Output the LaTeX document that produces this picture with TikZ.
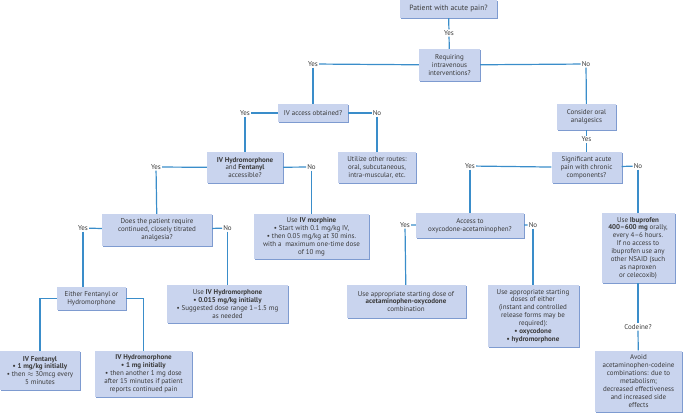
\documentclass[tikz,border=0pt]{standalone}
\usepackage{fontspec}
\setmainfont{PT Sans}
\usepackage{tikz}
\usetikzlibrary{shadows}

\definecolor{boxfill}{HTML}{C9D4EE}
\definecolor{boxshade}{HTML}{7E9BD0}
\definecolor{linkblue}{HTML}{3A8DCA}
\definecolor{txtgray}{HTML}{3A3A3A}

\begin{document}
\begin{tikzpicture}[
  x=1pt, y=-1pt,
  font=\fontsize{7}{7.9}\selectfont, text=txtgray,
  b/.style={fill=boxfill, align=center, inner sep=1pt,
            drop shadow={shadow xshift=1.4pt, shadow yshift=-1.4pt, fill=boxshade, opacity=1}},
  lbl/.style={inner sep=1pt, fill=white},
  a/.style={draw=linkblue, line width=1.2pt},
]
\useasboundingbox (0,0) rectangle (685,413);

% Top: intravenous or oral route
\node[b, minimum width=97pt, minimum height=18pt, font=\fontsize{7.6}{8.6}\selectfont] (pat) at (448.5,9) {Patient with acute pain?};
\node[lbl] (y0) at (449,33) {Yes};
\node[b, minimum width=61pt, minimum height=32pt] (req) at (449.5,65) {Requiring\\intravenous\\interventions?};
\draw[a] (pat) -- (y0);
\draw[a] (y0) -- (req);

\node[lbl] (y1) at (313,64) {Yes};
\node[lbl] (n1) at (586,64) {No};
\draw[a] (req) -- (y1);
\draw[a] (req) -- (n1);

% IV branch
\node[b, minimum width=70pt, minimum height=18pt] (iv) at (313,113) {IV access obtained?};
\draw[a] (y1) -- (iv);
\node[lbl] (y2) at (245,113) {Yes};
\node[lbl] (n2) at (377,113) {No};
\draw[a] (iv) -- (y2);
\draw[a] (iv) -- (n2);

\node[b, minimum width=76pt, minimum height=31pt] (hf) at (245,167.5)
  {\textbf{IV Hydromorphone}\\and \textbf{Fentanyl}\\accessible?};
\node[b, minimum width=78pt, minimum height=31pt] (util) at (377,167.5)
  {Utilize other routes:\\oral, subcutaneous,\\intra-muscular, etc.};
\draw[a] (y2) -- (hf);
\draw[a] (n2) -- (util);

\node[lbl] (y4) at (156,167) {Yes};
\node[lbl] (n4) at (311.5,167) {No};
\draw[a] (hf) -- (y4);
\draw[a] (hf) -- (n4);

\node[b, minimum width=110pt, minimum height=32pt] (does) at (157,230)
  {Does the patient require\\continued, closely titrated\\analgesia?};
\node[b, minimum width=115pt, minimum height=45pt] (morph) at (311.5,236.5)
  {Use \textbf{IV morphine}\\\textbullet{} Start with 0.1 mg/kg IV,\\\textbullet{} then 0.05 mg/kg at 30 mins.\\with a\ \ maximum one-time dose\\of 10 mg};
\draw[a] (y4) -- (does);
\draw[a] (n4) -- (morph);

\node[lbl] (y6) at (83,228) {Yes};
\node[lbl] (n6) at (227.5,228) {No};
\draw[a] (does) -- (y6);
\draw[a] (does) -- (n6);

\node[b, minimum width=69pt, minimum height=23pt] (either) at (91.5,298.5)
  {Either Fentanyl or\\Hydromorphone};
\node[b, minimum width=121pt, minimum height=38pt] (hyd015) at (227.5,304)
  {Use \textbf{IV Hydromorphone}\\\textbf{\textbullet{} 0.015 mg/kg initially}\\\textbullet{} Suggested dose range 1--1.5 mg\\as needed};
\draw[a] (y6) -- (y6 |- either.north);
\draw[a] (n6) -- (hyd015);

\node[b, minimum width=80pt, minimum height=39pt] (fent) at (40,370.5)
  {\textbf{IV Fentanyl}\\\textbf{\textbullet{} 1 mg/kg initially}\\\textbullet{} then $\approx$ 30mcg every\\5 minutes};
\node[b, minimum width=97pt, minimum height=46pt] (hyd1) at (143.5,374)
  {\textbf{IV Hydromorphone}\\\textbf{\textbullet{} 1 mg initially}\\\textbullet{} then another 1 mg dose\\after 15 minutes if patient\\reports continued pain};
\draw[a] (either.west) -| (fent.north);
\draw[a] (either.east) -| (hyd1.north);

% Oral branch
\node[b, minimum width=59pt, minimum height=26pt] (cons) at (586.5,117) {Consider oral\\analgesics};
\draw[a] (n1) -- (cons);
\node[lbl] (y3) at (586.5,139.5) {Yes};
\node[b, minimum width=70pt, minimum height=31pt] (sig) at (586.5,167.5)
  {Significant acute\\pain with chronic\\components?};
\draw[a] (cons) -- (y3);
\draw[a] (y3) -- (sig);

\node[lbl] (y5) at (470,166) {Yes};
\node[lbl] (n5) at (638,166) {No};
\draw[a] (sig) -- (y5);
\draw[a] (sig) -- (n5);

\node[b, minimum width=108pt, minimum height=25pt] (acc) at (470,225.5)
  {Access to\\oxycodone-acetaminophen?};
\node[b, minimum width=73pt, minimum height=70pt] (ibu) at (638,248)
  {Use \textbf{Ibuprofen}\\\textbf{400--600 mg} orally,\\every 4--6 hours.\\If no access to\\ibuprofen use any\\other NSAID (such\\as naproxen\\or celecoxib)};
\draw[a] (y5) -- (acc);
\draw[a] (n5) -- (ibu);

\node[lbl] (y7) at (405,225) {Yes};
\node[lbl] (n7) at (533,225) {No};
\draw[a] (acc) -- (y7);
\draw[a] (acc) -- (n7);

\node[b, minimum width=119pt, minimum height=33pt] (combo) at (406,301.5)
  {Use appropriate starting dose of\\\textbf{acetaminophen-oxycodone}\\combination};
\node[b, minimum width=91pt, minimum height=62pt] (doses) at (533,316)
  {Use appropriate starting\\doses of either\\(instant and controlled\\release forms may be\\required):\\\textbf{\textbullet{} oxycodone}\\\textbf{\textbullet{} hydromorphone}};
\draw[a] (y7) -- (combo);
\draw[a] (n7) -- (doses);

\node[lbl] (cod) at (638,327) {Codeine?};
\node[b, minimum width=87pt, minimum height=61pt] (avoid) at (638.5,381)
  {Avoid\\acetaminophen-codeine\\combinations: due to\\metabolism;\\decreased effectiveness\\and increased side\\effects};
\draw[a] (ibu) -- (cod);
\draw[a] (cod) -- (avoid);
\end{tikzpicture}
\end{document}
